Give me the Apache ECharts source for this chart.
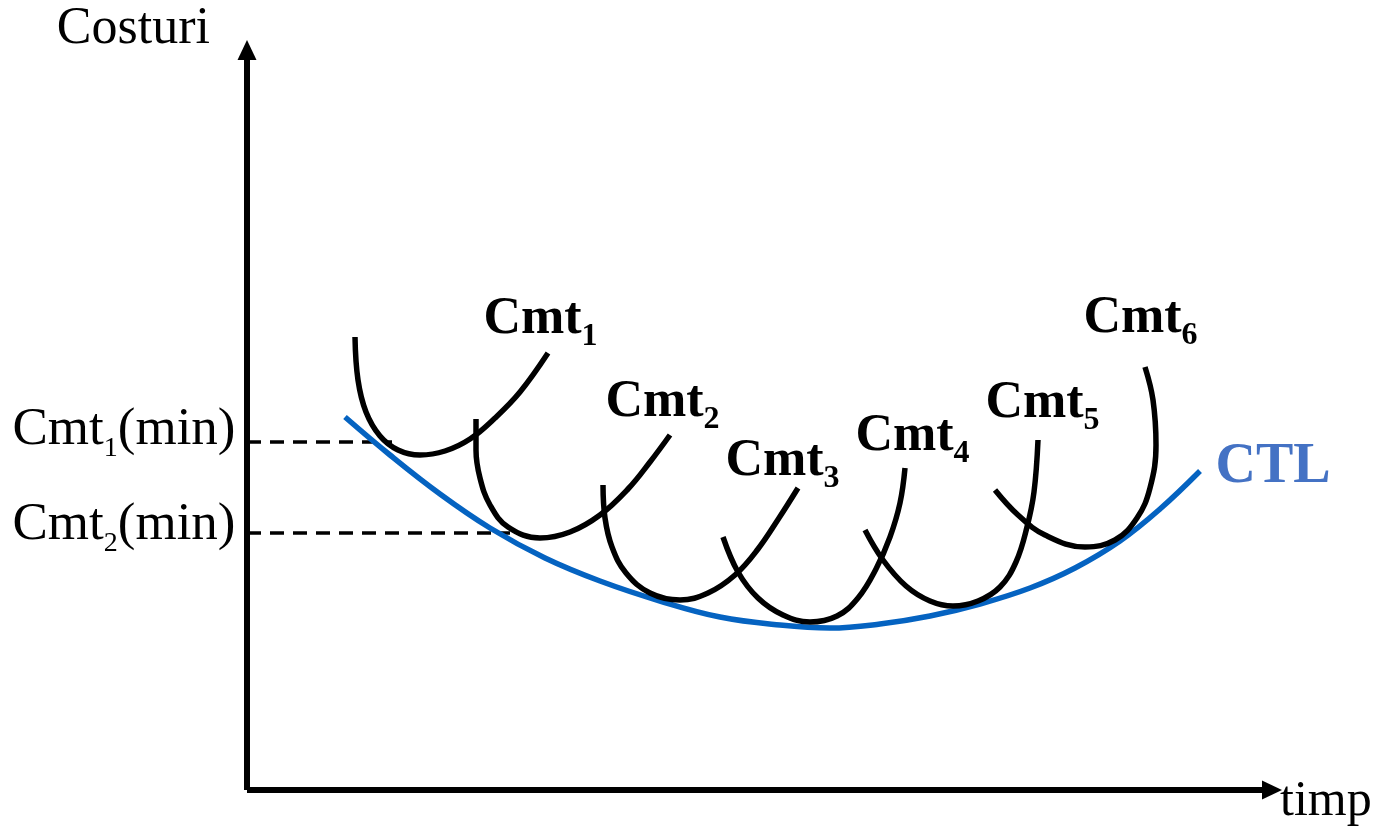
<!DOCTYPE html>
<html><head><meta charset="utf-8">
<script src="https://cdn.jsdelivr.net/npm/echarts@6/dist/echarts.min.js"></script>
<style>html,body{margin:0;padding:0;background:#fff}#c{width:1383px;height:837px}</style>
</head><body><div id="c"></div>
<script>
// ---- data (x = time units, y = cost units) ----
const ctl  = [[98,373],[143,335],[193,296],[243,262],[298,232],[353,209],[413,189],[473,173],[533,165],[583,162],[633,166],[683,174],[733,186],[783,202],[828,222],[873,249],[913,281],[953,319]];
const cmt1 = [[108,453],[111,410],[119,378],[133,354],[151,340],[173,335],[198,339],[223,351],[248,372],[273,398],[301,437]];
const cmt2 = [[229,371],[229,340],[233,312],[243,285],[261,263],[293,252],[323,258],[353,275],[381,301],[403,328],[423,355]];
const cmt3 = [[356,305],[358,272],[365,243],[379,217],[403,197],[433,190],[461,197],[488,215],[511,241],[532,272],[551,302]];
const cmt4 = [[476,253],[491,218],[511,192],[536,175],[563,168],[590,174],[611,192],[629,221],[643,253],[653,287],[658,322]];
const cmt5 = [[618,260],[636,230],[659,204],[683,189],[706,184],[731,189],[753,203],[769,228],[780,263],[787,298],[791,350]];
const cmt6 = [[748,300],[771,275],[798,255],[838,243],[868,250],[890,272],[903,302],[909,345],[906,390],[898,423]];
const curves = [cmt1, cmt2, cmt3, cmt4, cmt5, cmt6];
const curveSubs = ['1','2','3','4','5','6'];
const minLevels = [348, 257];      // Cmt1(min), Cmt2(min)
const minLineEnds = [145, 263];    // x where the dashed guides end
const minSubs = ['1','2'];
const xName = 'timp', yName = 'Costuri', envName = 'CTL';

// ---- styles ----
const FONT = '"Liberation Serif","Times New Roman",serif';
const curveLabelOffsets = [[-7.5,0.5],[-7.5,1.5],[-15.5,7.5],[7.5,2.5],[4.5,-2.5],[-4.5,-14.5]];
const minLabelOffsets = [[0,-12],[0,-8]];
const richBold = {
  m: {fontFamily: FONT, fontSize: 52, fontWeight: 'bold', color: '#000', lineHeight: 67},
  s: {fontFamily: FONT, fontSize: 32, fontWeight: 'bold', color: '#000', lineHeight: 32, verticalAlign: 'bottom'}
};
const richReg = {
  m: {fontFamily: FONT, fontSize: 53, color: '#000', lineHeight: 66},
  s: {fontFamily: FONT, fontSize: 28, color: '#000', lineHeight: 28, verticalAlign: 'bottom'}
};

const series = [];
// envelope curve
series.push({
  type: 'line', smooth: 0.4, silent: true, z: 2,
  symbol: 'circle', symbolSize: 1, itemStyle: {color: 'rgba(0,0,0,0)'},
  lineStyle: {color: '#0563C1', width: 5.5},
  data: ctl.map((p, i) => i === ctl.length - 1 ? {
    value: p,
    label: {show: true, position: 'right', distance: 15, offset: [0, -3], formatter: envName,
      color: '#4472C4', fontFamily: FONT, fontSize: 56, fontWeight: 'bold'}
  } : p)
});
// dashed guides with y labels
minLevels.forEach((lv, k) => {
  series.push({
    type: 'line', silent: true, z: 1,
    symbol: 'circle', symbolSize: 1, itemStyle: {color: 'rgba(0,0,0,0)'},
    lineStyle: {color: '#000', width: 3.5, type: [14, 9]},
    data: [{
      value: [0, lv],
      label: {show: true, position: 'left', distance: 11, offset: minLabelOffsets[k],
        formatter: '{m|Cmt}{s|' + minSubs[k] + '}{m|(min)}', rich: richReg, color: '#000'}
    }, [minLineEnds[k], lv]]
  });
});
// short-run cost curves
curves.forEach((pts, k) => {
  series.push({
    type: 'line', smooth: 0.4, silent: true, z: 3,
    symbol: 'circle', symbolSize: 1, itemStyle: {color: 'rgba(0,0,0,0)'},
    lineStyle: {color: '#000', width: 5.5},
    data: pts.map((p, i) => i === pts.length - 1 ? {
      value: p,
      label: {show: true, position: 'top', distance: 0, offset: curveLabelOffsets[k],
        formatter: '{m|Cmt}{s|' + curveSubs[k] + '}', rich: richBold, color: '#000'}
    } : p)
  });
});

const axisLine = {show: true, onZero: false, symbol: ['none', 'triangle'], symbolSize: [19, 20],
  lineStyle: {color: '#000', width: 6, cap: 'butt'}};

const chart = echarts.init(document.getElementById('c'), null, {renderer: 'canvas'});
chart.setOption({
  animation: false,
  backgroundColor: '#fff',
  grid: {left: 247, right: 111, top: 50, bottom: 47, containLabel: false},
  xAxis: {
    type: 'value', min: 0, max: 1025,
    axisLine: axisLine, axisTick: {show: false}, axisLabel: {show: false}, splitLine: {show: false},
    name: xName, nameLocation: 'end', nameGap: 8,
    nameTextStyle: {fontFamily: FONT, fontSize: 50, color: '#000', align: 'left', verticalAlign: 'top', lineHeight: 24}
  },
  yAxis: {
    type: 'value', min: 0, max: 740,
    axisLine: axisLine, axisTick: {show: false}, axisLabel: {show: false}, splitLine: {show: false},
    name: yName, nameLocation: 'end', nameGap: -5,
    nameTextStyle: {fontFamily: FONT, fontSize: 52, color: '#000', align: 'right', verticalAlign: 'bottom', padding: [0, 37, 0, 0]}
  },
  series: series
});
</script>
</body></html>
